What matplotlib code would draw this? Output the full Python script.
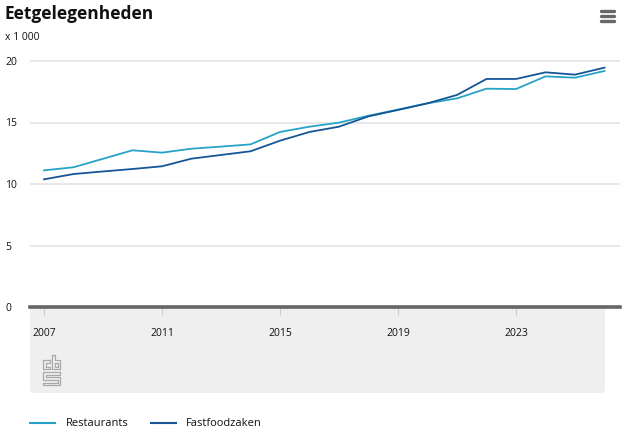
import matplotlib
matplotlib.use("Agg")
import matplotlib.pyplot as plt
from matplotlib.patches import FancyBboxPatch
from matplotlib.lines import Line2D

# Data (x 1 000)
years = list(range(2007, 2027))
restaurants = [11.11, 11.36, 12.05, 12.74, 12.55, 12.87, 13.04, 13.22, 14.23, 14.66,
               14.99, 15.55, 16.05, 16.56, 16.96, 17.75, 17.72, 18.75, 18.64, 19.19]
fastfood = [10.38, 10.81, 11.02, 11.22, 11.44, 12.06, 12.36, 12.66, 13.52, 14.23,
            14.66, 15.50, 16.02, 16.56, 17.24, 18.54, 18.54, 19.08, 18.89, 19.46]
series_labels = ["Restaurants", "Fastfoodzaken"]
xtick_years = [2007, 2011, 2015, 2019, 2023]
yticks = [0, 5, 10, 15, 20]

C_REST = "#27a3c7"
C_FAST = "#165596"
FONT = ["Open Sans", "DejaVu Sans"]
plt.rcParams["font.family"] = FONT

W, H = 629, 438
fig = plt.figure(figsize=(W / 100, H / 100), dpi=100)


def fx(px):
    return px / W


def fy(py):
    return 1 - py / H


# plot area in pixels: left 30, right 620, top 55, bottom 307
ax = fig.add_axes([fx(30), fy(307), fx(620) - fx(30), fy(55) - fy(307)])
px_year = 29.5
ax.set_xlim(2007 - 14 / px_year, 2007 + (620 - 44) / px_year)
ax.set_ylim(0, 20 + 6 / 12.3)

# grey panel under the axis
panel = FancyBboxPatch((fx(30), fy(393)), fx(605) - fx(30), fy(307) - fy(393),
                       boxstyle="round,pad=0,rounding_size=0.008",
                       transform=fig.transFigure, facecolor="#efefef",
                       edgecolor="none", zorder=-1)
fig.patches.append(panel)
ax.set_facecolor("none")

for v in yticks[1:]:
    ax.axhline(v, color="#e4e4e4", lw=1.2, zorder=1)
ax.axhline(0, color="#666666", lw=2.6, zorder=3, clip_on=False)

ax.plot(years, restaurants, color=C_REST, lw=1.3, zorder=4)
ax.plot(years, fastfood, color=C_FAST, lw=1.3, zorder=5)

for s in ax.spines.values():
    s.set_visible(False)

ax.set_xticks(xtick_years)
ax.set_xticklabels([str(y) for y in xtick_years])
ax.tick_params(axis="x", length=6, width=0.8, color="#cccccc", pad=9,
               labelsize=7.5, labelcolor="#111111")
ax.set_yticks(yticks)
ax.set_yticklabels([str(v) for v in yticks])
ax.tick_params(axis="y", length=0, pad=18, labelsize=7.5, labelcolor="#111111")
for lab in ax.get_yticklabels():
    lab.set_horizontalalignment("left")

# titles
fig.text(fx(4), fy(14), "Eetgelegenheden", fontsize=12.5, fontweight="bold",
         color="#111111", va="center", ha="left")
fig.text(fx(5), fy(38), "x 1 000", fontsize=7.5, color="#111111",
         va="center", ha="left")

# menu icon
for yy in (11, 16, 21):
    fig.add_artist(Line2D([fx(601), fx(614)], [fy(yy), fy(yy)], lw=2.4,
                          color="#666666", solid_capstyle="round"))

# simplified cbs logo
logo_paths = [
    [(50, 360), (43, 360), (43, 369), (50, 369), (50, 366.5), (45.5, 366.5),
     (45.5, 362.5), (50, 362.5), (50, 360)],
    [(52, 355), (54.5, 355), (54.5, 360), (60, 360), (60, 369), (52, 369), (52, 355)],
    [(54.5, 362.5), (57.5, 362.5), (57.5, 366.5), (54.5, 366.5), (54.5, 362.5)],
    [(60, 372), (43, 372), (43, 379.5), (57.5, 379.5), (57.5, 382.5), (43, 382.5),
     (43, 385), (60, 385), (60, 377), (45.5, 377), (45.5, 374.5), (60, 374.5), (60, 372)],
]
for path in logo_paths:
    xs = [fx(p[0]) for p in path]
    ys = [fy(p[1]) for p in path]
    fig.add_artist(Line2D(xs, ys, lw=0.9, color="#a8a8a8"))

# legend
leg_items = [(30, 66, C_REST, series_labels[0]), (151, 186, C_FAST, series_labels[1])]
for x0, xt, col, lab in leg_items:
    fig.add_artist(Line2D([fx(x0), fx(x0 + 25)], [fy(423), fy(423)], lw=1.5, color=col))
    fig.text(fx(xt), fy(423), lab, fontsize=8, color="#111111",
             va="center", ha="left")

fig.savefig("out.png", dpi=100)
